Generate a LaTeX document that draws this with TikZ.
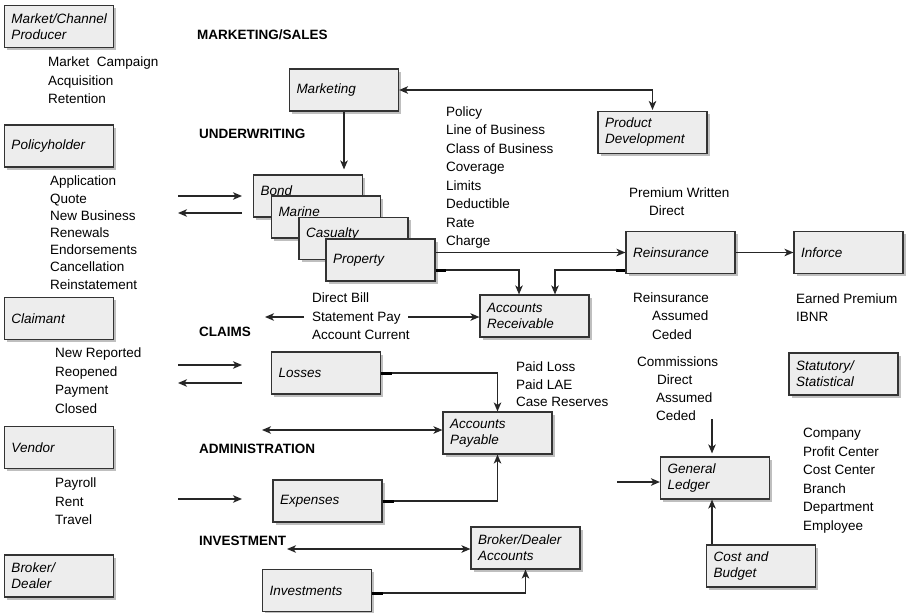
\documentclass[tikz,border=0pt]{standalone}
\usepackage{fontspec}
\setmainfont{Liberation Sans}
\usepackage{tikz}
\usetikzlibrary{positioning,arrows.meta,calc,shadows}
\tikzset{
    x=1pt,
    y=-1pt,
    wire/.style = {
        draw=black!85,
        line width=1.5pt
    },
    stub/.style = {
        draw=black,
        line width=3pt
    },
    block/.style = {
        draw=black!80,
        fill=black!7,
        shape=rectangle,
        minimum height=42pt,
        text width=95pt,
        inner xsep=7pt,
        align=left,
        line width=1.1pt,
        font=\fontsize{13.5}{16}\selectfont\itshape,
        drop shadow={shadow xshift=2.5pt, shadow yshift=-2.5pt, fill=black!50}
    },
    stack/.style = {
        block,
        text height=16pt,
        text depth=18pt,
        inner ysep=4pt
    },
    section/.style = {
        anchor=west,
        inner sep=0pt,
        font=\fontsize{13.5}{16}\selectfont\bfseries
    },
    items/.style = {
        anchor=north west,
        inner sep=0pt,
        align=left,
        font=\fontsize{13.5}{18.5}\selectfont
    },
    >={Stealth[length=9pt,width=7.5pt,inset=2.5pt]},
}
\begin{document}
\begin{tikzpicture}
                \useasboundingbox (0,0) rectangle (911,613);

                \node[block] (channel) at (59,26.5) {Market/Channel\\Producer};
                \node[block] (holder) at (59,146) {Policyholder};
                \node[block] (claimant) at (59,318.5) {Claimant};
                \node[block] (vendor) at (59,447.5) {Vendor};
                \node[block] (broker) at (59,576) {Broker/\\Dealer};

                \node[block] (mktg) at (344,90) {Marketing};
                \node[block] (prod) at (652.5,132.5) {Product\\Development};
                \node[stack] (bond) at (308,196) {Bond};
                \node[stack] (marine) at (326,217) {Marine};
                \node[stack] (casualty) at (353.5,238.5) {Casualty};
                \node[block] (property) at (380.5,260) {Property};
                \node[block] (reins) at (680.5,252.5) {Reinsurance};
                \node[block] (inforce) at (848.5,252.5) {Inforce};
                \node[block] (recv) at (534.5,316) {Accounts\\Receivable};
                \node[block] (losses) at (326,373) {Losses};
                \node[block] (pay) at (497.5,433) {Accounts\\Payable};
                \node[block] (expense) at (327.5,501) {Expenses};
                \node[block] (bdacct) at (525.5,548) {Broker/Dealer\\Accounts};
                \node[block] (invest) at (317,590.5) {Investments};
                \node[block] (ledger) at (715,478) {General\\Ledger};
                \node[block] (budget) at (761,566) {Cost and\\Budget};
                \node[block] (stat) at (843.5,374) {Statutory/\\Statistical};

                \node[section] (sales) at (197,35) {MARKETING/SALES};
                \node[section] (uw) at (199,134) {UNDERWRITING};
                \node[section] (claims) at (199,332) {CLAIMS};
                \node[section] (admin) at (199,449) {ADMINISTRATION};
                \node[section] (inv) at (199,541) {INVESTMENT};

                \node[items] (campaign) at (48,57) {Market~ Campaign\\Acquisition\\Retention};
                \node[items, font=\fontsize{13.5}{17.2}\selectfont] (apps) at (50,176)
                {Application\\Quote\\New Business\\Renewals\\Endorsements\\Cancellation\\Reinstatement};
                \node[items] (reported) at (55,348) {New Reported\\Reopened\\Payment\\Closed};
                \node[items] (payroll) at (55,478) {Payroll\\Rent\\Travel};
                \node[items] (policy) at (446,106.5)
                {Policy\\Line of Business\\Class of Business\\Coverage\\Limits\\Deductible\\Rate\\Charge};
                \node[items, font=\fontsize{13.5}{18}\selectfont] (premium) at (629,188)
                {Premium Written\\\hspace*{20pt}Direct};
                \node[items] (ceded) at (633,292.5)
                {Reinsurance\\\hspace*{19pt}Assumed\\\hspace*{19pt}Ceded};
                \node[items, font=\fontsize{13.5}{18}\selectfont] (comms) at (637,357)
                {Commissions\\\hspace*{20pt}Direct\\\hspace*{19pt}Assumed\\\hspace*{19pt}Ceded};
                \node[items, font=\fontsize{13.5}{18}\selectfont] (earned) at (796,294) {Earned Premium\\IBNR};
                \node[items] (billing) at (312,293) {Direct Bill\\Statement Pay\\Account Current};
                \node[items, font=\fontsize{13.5}{17.5}\selectfont] (paid) at (516,362)
                {Paid Loss\\Paid LAE\\Case Reserves};
                \node[items] (company) at (803,428)
                {Company\\Profit Center\\Cost Center\\Branch\\Department\\Employee};

                \coordinate (hin) at (178,196);
                \coordinate (hinend) at (242,196);
                \coordinate (hout) at (178,213);
                \coordinate (houtend) at (242,213);
                \coordinate (cin) at (178,365);
                \coordinate (cinend) at (242,365);
                \coordinate (cout) at (178,383);
                \coordinate (coutend) at (242,383);
                \coordinate (vin) at (178,499);
                \coordinate (vinend) at (242,499);
                \coordinate (billout) at (265,317);
                \coordinate (billin) at (304,317);
                \coordinate (billpay) at (408,317);
                \coordinate (adminline) at (262,430);
                \coordinate (invline) at (287,549);
                \coordinate (comm) at (712,419);
                \coordinate (glin) at (617,482);

                \path[wire, <->, shorten >=1pt] (mktg.east) -| (prod.north);
                \path[wire, ->, shorten >=5pt] (mktg.south) -- (mktg.south |- bond.north);
                \path[wire, ->] (hin) -- (hinend);
                \path[wire, ->] (houtend) -- (hout);
                \path[wire, ->] (reins.west -| property.east) -- (reins.west);
                \path[wire, ->] ([yshift=-10pt]property.east) -| ([xshift=-15.5pt]recv.north);
                \path[wire, ->] ([yshift=-17.5pt]reins.west) -| ([xshift=20.5pt]recv.north);
                \path[wire, ->] (reins) -- (inforce);
                \path[wire, ->] (billin) -- (billout);
                \path[wire, ->] (billpay) -- (billpay -| recv.west);

                \path[wire, ->] (cin) -- (cinend);
                \path[wire, ->] (coutend) -- (cout);
                \path[wire, ->] (losses.east) -| (pay.north);
                \path[wire, <->] (adminline) -- (adminline -| pay.west);
                \path[wire, ->] (vin) -- (vinend);
                \path[wire, ->] (expense.east) -| (pay.south);
                \path[wire, <->] (invline) -- (invline -| bdacct.west);
                \path[wire, ->] ([yshift=-2.5pt]invest.east) -| (bdacct.south);

                \path[wire, ->, shorten >=3pt] (comm) -- (comm |- ledger.north);
                \path[wire, ->] (glin) -- (glin -| ledger.west);
                \path[wire, ->] (comm |- budget.north) -- (comm |- ledger.south);

                % thick stubs where the feeds leave the boxes
                \path[stub] ([yshift=-10pt]property.east) -- ++(10,0);
                \path[stub] ([yshift=-17.5pt]reins.west) -- ++(-9,0);
                \path[stub] (losses.east) -- ++(11,0);
                \path[stub] (expense.east) -- ++(11,0);
                \path[stub] ([yshift=-2.5pt]invest.east) -- ++(11,0);
            \end{tikzpicture}
\end{document}
